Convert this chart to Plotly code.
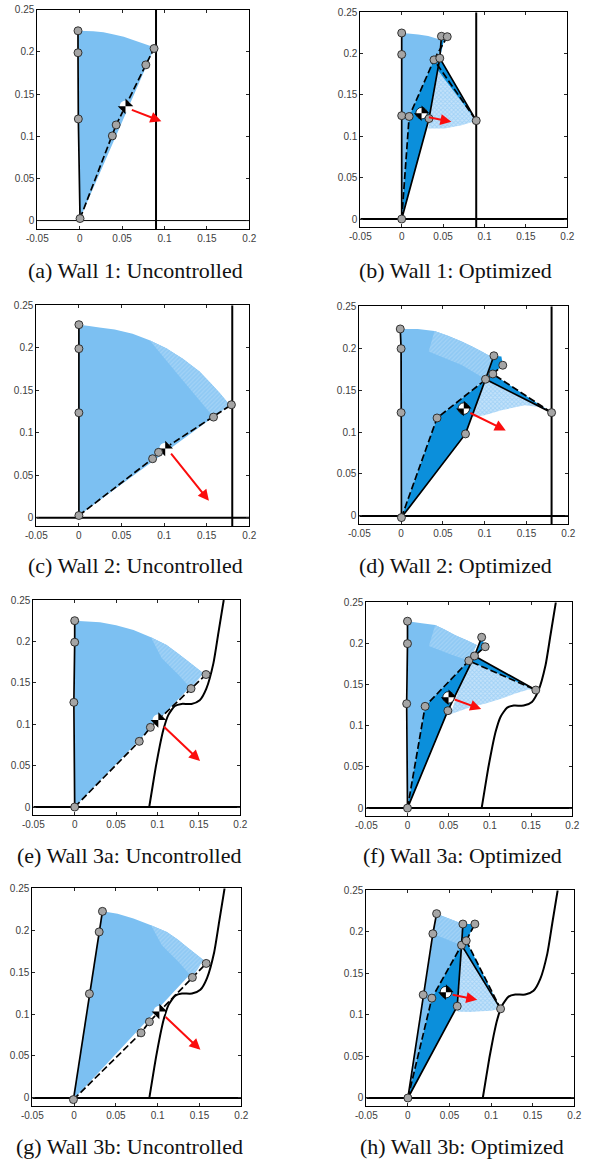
import plotly.graph_objects as go

W, H = 590, 1161
CAPTIONS = ["(a) Wall 1: Uncontrolled", "(b) Wall 1: Optimized", "(c) Wall 2: Uncontrolled", "(d) Wall 2: Optimized",
            "(e) Wall 3a: Uncontrolled", "(f) Wall 3a: Optimized", "(g) Wall 3b: Uncontrolled", "(h) Wall 3b: Optimized"]
CAPTION_POS = [(135, 270.5), (455, 270.5), (135, 565.5), (455, 565.5), (129, 855.5), (462, 855.5), (129, 1146.5), (462, 1146.5)]
FRAMES = [(37.3, 249.3, 9.7, 229), (360.3, 567.3, 12.3, 227.3), (36.3, 249.3, 305.3, 526.3), (359.3, 568.3, 306.3, 524.3),
          (33.3, 240.3, 600, 815.3), (366.3, 572.3, 602.3, 816.3), (32.3, 241.3, 888.3, 1106.3), (366.3, 574.3, 890.3, 1106.3)]
X_TICKS = [-0.05, 0, 0.05, 0.1, 0.15, 0.2]
X_LABELS = ["-0.05", "0", "0.05", "0.1", "0.15", "0.2"]
Y_TICKS = [0, 0.05, 0.1, 0.15, 0.2, 0.25]
Y_LABELS = ["0", "0.05", "0.1", "0.15", "0.2", "0.25"]

WALL3_X = [0.09, 0.094, 0.098, 0.103, 0.107, 0.113, 0.121, 0.129, 0.141, 0.151, 0.159, 0.1675, 0.1735, 0.18]
WALL3_Y = [0, 0.0245, 0.0487, 0.075, 0.093, 0.111, 0.122, 0.1245, 0.1245, 0.129, 0.143, 0.1735, 0.21, 0.25]
WALL1_X = [0.09, 0.09]
WALL2_X = [0.18, 0.18]
WALL_V_Y = [-0.01, 0.25]

# Panel a
A_LIGHT = [(-0.002, 0.225), (0.016, 0.2244), (0.028, 0.2232), (0.039, 0.221), (0.052, 0.2178), (0.063, 0.214), (0.075, 0.2098), (0.086, 0.206), (0.0877, 0.204), (0.0004, 0.0024)]
A_BAND = []
A_HATCH = []
A_SOLID = [[(0.0004, 0.0024), (-0.0016, 0.1205), (-0.002, 0.199), (-0.002, 0.225)]]
A_DASH = [[(0.0004, 0.0024), (0.0385, 0.1004), (0.043, 0.1134), (0.078, 0.1846), (0.0877, 0.204)]]
A_DOTS = [(-0.002, 0.225), (-0.002, 0.199), (-0.0016, 0.1205), (0.0004, 0.0024), (0.0385, 0.1004), (0.043, 0.1134), (0.078, 0.1846), (0.0877, 0.204)]
A_COM = (0.054, 0.1354)
A_ARROW = (0.0597, 0.132, 0.0963, 0.1177)

# Panel b
B_LIGHT = [(0, 0.225), (0.0076, 0.2245), (0.02, 0.2232), (0.032, 0.2213), (0.048, 0.2165), (0.046, 0.1945), (0.039, 0.1925), (0.009, 0.124), (0, 0)]
B_BAND = []
B_HATCH = [[(0.045, 0.19), (0.09, 0.119), (0.0725, 0.1135), (0.052, 0.1095), (0.032, 0.1095)]]
B_DARK = [[(0, 0), (0.009, 0.124), (0.039, 0.1925), (0.046, 0.1945), (0.033, 0.1215)],
          [(0.046, 0.1945), (0.048, 0.221), (0.052, 0.2205)],
          [(0.046, 0.1945), (0.09, 0.119), (0.042, 0.182)]]
B_SOLID = [[(0, 0), (0, 0.125), (0, 0.199), (0, 0.225)],
           [(0, 0), (0.033, 0.1215), (0.046, 0.1945), (0.09, 0.119)],
           [(0.046, 0.1945), (0.048, 0.221)]]
B_DASH = [[(0, 0), (0.009, 0.124), (0.039, 0.1925), (0.09, 0.119)], [(0.039, 0.1925), (0.055, 0.2205)]]
B_DOTS = [(0, 0.225), (0, 0.199), (0, 0.125), (0.009, 0.124), (0.033, 0.1215), (0.039, 0.1925), (0.046, 0.1945), (0.048, 0.221), (0.055, 0.2205), (0.09, 0.119), (0, 0)]
B_COM = (0.024, 0.128)
B_ARROW = (0.031, 0.1235, 0.06, 0.1175)

# Panel c
C_LIGHT = [(0, 0.2272), (0.012, 0.2255), (0.024, 0.224), (0.042, 0.2215), (0.063, 0.2165), (0.083, 0.209), (0.1025, 0.1995), (0.122, 0.187), (0.1416, 0.172), (0.155, 0.158), (0.165, 0.147), (0.177, 0.1327), (0, 0.0027)]
C_BAND = [[(0.083, 0.209), (0.1025, 0.1995), (0.122, 0.187), (0.1416, 0.172), (0.155, 0.158), (0.165, 0.147), (0.177, 0.1327), (0.158, 0.1185), (0.14, 0.14), (0.115, 0.17)]]
C_HATCH = []
C_SOLID = [[(0, 0.0027), (0, 0.1236), (0, 0.199), (0, 0.2272)]]
C_DASH = [[(0, 0.0027), (0.0865, 0.0695), (0.0935, 0.077), (0.158, 0.1185), (0.179, 0.133)]]
C_DOTS = [(0, 0.2272), (0, 0.199), (0, 0.1236), (0, 0.0027), (0.0865, 0.0695), (0.0935, 0.077), (0.158, 0.1185), (0.179, 0.133)]
C_COM = (0.1013, 0.0816)
C_ARROW = (0.1068, 0.0773, 0.1526, 0.02)

# Panel d
D_LIGHT = [(-0.001, 0.223), (0.02, 0.223), (0.04, 0.2206), (0.056, 0.215), (0.0725, 0.208), (0.085, 0.202), (0.0965, 0.196), (0.111, 0.188), (0.101, 0.163), (0.043, 0.1168), (0.0004, -0.002)]
D_BAND = [[(0.04, 0.2206), (0.056, 0.215), (0.0725, 0.208), (0.085, 0.202), (0.0965, 0.196), (0.111, 0.188), (0.101, 0.163), (0.0725, 0.18), (0.033, 0.196)]]
D_HATCH = [[(0.101, 0.163), (0.18, 0.1232), (0.165, 0.13), (0.148, 0.132), (0.12, 0.126), (0.1, 0.12), (0.0845, 0.118)]]
D_DARK = [[(0.0004, -0.002), (0.043, 0.1168), (0.1097, 0.1693), (0.101, 0.163), (0.077, 0.0978)],
          [(0.101, 0.163), (0.1097, 0.1693), (0.18, 0.1232)],
          [(0.101, 0.163), (0.111, 0.191), (0.12, 0.19), (0.1216, 0.1797), (0.1097, 0.1693)]]
D_SOLID = [[(0.0004, -0.002), (0, 0.1232), (0, 0.1995), (-0.001, 0.223)],
           [(0.0004, -0.002), (0.077, 0.0978), (0.101, 0.163), (0.18, 0.1232)],
           [(0.101, 0.163), (0.111, 0.191)]]
D_DASH = [[(0.0004, -0.002), (0.043, 0.1168), (0.1097, 0.1693), (0.18, 0.1232)], [(0.1097, 0.1693), (0.1216, 0.1797)]]
D_DOTS = [(-0.001, 0.223), (0, 0.1995), (0, 0.1232), (0.0004, -0.002), (0.043, 0.1168), (0.077, 0.0978), (0.101, 0.163), (0.1097, 0.1693), (0.111, 0.191), (0.1216, 0.1797), (0.18, 0.1232)]
D_COM = (0.075, 0.128)
D_ARROW = (0.081, 0.1236, 0.1252, 0.102)

# Panel e
E_LIGHT = [(0, 0.225), (0.0306, 0.223), (0.05, 0.2195), (0.071, 0.2138), (0.092, 0.205), (0.111, 0.1957), (0.124, 0.186), (0.135, 0.1775), (0.1554, 0.1614), (0, 0)]
E_BAND = [[(0.092, 0.205), (0.111, 0.1957), (0.124, 0.186), (0.135, 0.1775), (0.1554, 0.1614), (0.1405, 0.143), (0.125, 0.16), (0.105, 0.18)]]
E_HATCH = []
E_SOLID = [[(0, 0), (-0.001, 0.1264), (0, 0.199), (0, 0.225)]]
E_DASH = [[(0, 0), (0.078, 0.0793), (0.0914, 0.0962), (0.1405, 0.143), (0.1586, 0.16)]]
E_DOTS = [(0, 0.225), (0, 0.199), (-0.001, 0.1264), (0, 0), (0.078, 0.0793), (0.0914, 0.0962), (0.1405, 0.143), (0.1586, 0.16)]
E_COM = (0.101, 0.105)
E_ARROW = (0.106, 0.0986, 0.1514, 0.0556)

# Panel f
F_LIGHT = [(0, 0.227), (0.0174, 0.2245), (0.0336, 0.2224), (0.045, 0.217), (0.058, 0.21), (0.072, 0.204), (0.084, 0.198), (0.0744, 0.179), (0.0214, 0.1236), (0, 0)]
F_BAND = [[(0.0336, 0.2224), (0.045, 0.217), (0.058, 0.21), (0.072, 0.204), (0.084, 0.198), (0.0744, 0.179), (0.052, 0.187), (0.026, 0.197)]]
F_HATCH = [[(0.075, 0.18), (0.1557, 0.1434), (0.147, 0.144), (0.13, 0.139), (0.1145, 0.133), (0.095, 0.127), (0.078, 0.123), (0.052, 0.114)]]
F_DARK = [[(0, 0), (0.0214, 0.1236), (0.0744, 0.179), (0.0813, 0.1848), (0.049, 0.1183)],
          [(0.0813, 0.1848), (0.09, 0.2075), (0.0943, 0.196)],
          [(0.0744, 0.179), (0.0813, 0.1848), (0.1557, 0.1434)]]
F_SOLID = [[(0, 0), (-0.001, 0.1268), (0, 0.1998), (0, 0.227)],
           [(0, 0), (0.049, 0.1183), (0.0813, 0.1848), (0.09, 0.2075)],
           [(0.0813, 0.1848), (0.1557, 0.1434)]]
F_DASH = [[(0, 0), (0.0214, 0.1236), (0.0744, 0.179), (0.1557, 0.1434)], [(0.0744, 0.179), (0.0943, 0.196)]]
F_DOTS = [(0, 0.227), (0, 0.1998), (-0.001, 0.1268), (0, 0), (0.0214, 0.1236), (0.049, 0.1183), (0.0744, 0.179), (0.0813, 0.1848), (0.09, 0.2075), (0.0943, 0.196), (0.1557, 0.1434)]
F_COM = (0.0498, 0.1345)
F_ARROW = (0.0554, 0.1325, 0.0894, 0.1203)

# Panel g
G_LIGHT = [(0.0339, 0.2225), (0.052, 0.2195), (0.071, 0.214), (0.092, 0.206), (0.111, 0.198), (0.124, 0.189), (0.135, 0.18), (0.1547, 0.1644), (-0.0008, -0.002)]
G_BAND = [[(0.092, 0.206), (0.111, 0.198), (0.124, 0.189), (0.135, 0.18), (0.1547, 0.1644), (0.1415, 0.1437), (0.125, 0.162), (0.105, 0.182)]]
G_HATCH = []
G_SOLID = [[(-0.0008, -0.002), (0.0183, 0.1242), (0.03, 0.198), (0.0339, 0.2225)]]
G_DASH = [[(-0.0008, -0.002), (0.0801, 0.0776), (0.0901, 0.0908), (0.1415, 0.1437), (0.158, 0.1604)]]
G_DOTS = [(0.0339, 0.2225), (0.03, 0.198), (0.0183, 0.1242), (-0.0008, -0.002), (0.0801, 0.0776), (0.0901, 0.0908), (0.1415, 0.1437), (0.158, 0.1604)]
G_COM = (0.102, 0.103)
G_ARROW = (0.1077, 0.0983, 0.1511, 0.0573)

# Panel h
H_LIGHT = [(0.0345, 0.2219), (0.0661, 0.2094), (0.0645, 0.184), (0.0288, 0.1202), (0, 0)]
H_BAND = [[(0.0345, 0.2219), (0.0661, 0.2094), (0.0645, 0.184), (0.03, 0.1977)]]
H_HATCH = [[(0.0645, 0.184), (0.1114, 0.1073), (0.1, 0.105), (0.088, 0.1045), (0.075, 0.1035), (0.06, 0.1037)]]
H_DARK = [[(0, 0), (0.0288, 0.1202), (0.0645, 0.184), (0.0593, 0.1105)],
          [(0.0645, 0.184), (0.0701, 0.1893), (0.1114, 0.1073)],
          [(0.0661, 0.2094), (0.0805, 0.2094), (0.0701, 0.1893), (0.0645, 0.184)]]
H_SOLID = [[(0, 0), (0.0184, 0.1242), (0.03, 0.1977), (0.0345, 0.2219)],
           [(0, 0), (0.0593, 0.1105), (0.0645, 0.184), (0.1114, 0.1073)],
           [(0.0645, 0.184), (0.0661, 0.2094)]]
H_DASH = [[(0, 0), (0.0288, 0.1202), (0.0645, 0.184), (0.0701, 0.1893), (0.0805, 0.2094)], [(0.0701, 0.1893), (0.1114, 0.1073)]]
H_DOTS = [(0.0345, 0.2219), (0.03, 0.1977), (0.0184, 0.1242), (0, 0), (0.0288, 0.1202), (0.0593, 0.1105), (0.0661, 0.2094), (0.0805, 0.2094), (0.0645, 0.184), (0.0701, 0.1893), (0.1114, 0.1073)]
H_COM = (0.0457, 0.1274)
H_ARROW = (0.052, 0.1246, 0.0833, 0.1182)

PANELS = [
    (A_LIGHT, A_BAND, A_HATCH, [], A_SOLID, A_DASH, A_DOTS, A_COM, A_ARROW, (WALL1_X, WALL_V_Y), 1.0),
    (B_LIGHT, B_BAND, B_HATCH, B_DARK, B_SOLID, B_DASH, B_DOTS, B_COM, B_ARROW, (WALL1_X, WALL_V_Y), 2.0),
    (C_LIGHT, C_BAND, C_HATCH, [], C_SOLID, C_DASH, C_DOTS, C_COM, C_ARROW, (WALL2_X, WALL_V_Y), 2.0),
    (D_LIGHT, D_BAND, D_HATCH, D_DARK, D_SOLID, D_DASH, D_DOTS, D_COM, D_ARROW, (WALL2_X, WALL_V_Y), 2.0),
    (E_LIGHT, E_BAND, E_HATCH, [], E_SOLID, E_DASH, E_DOTS, E_COM, E_ARROW, (WALL3_X, WALL3_Y), 2.0),
    (F_LIGHT, F_BAND, F_HATCH, F_DARK, F_SOLID, F_DASH, F_DOTS, F_COM, F_ARROW, (WALL3_X, WALL3_Y), 2.0),
    (G_LIGHT, G_BAND, G_HATCH, [], G_SOLID, G_DASH, G_DOTS, G_COM, G_ARROW, (WALL3_X, WALL3_Y), 2.0),
    (H_LIGHT, H_BAND, H_HATCH, H_DARK, H_SOLID, H_DASH, H_DOTS, H_COM, H_ARROW, (WALL3_X, WALL3_Y), 2.0),
]

LIGHT, DARK = "#7cc0f2", "#0b8fdb"
fig = go.Figure()


def xs(pts):
    return [p[0] for p in pts]


def ys(pts):
    return [p[1] for p in pts]


for i, (light, band, hatch, dark, solid, dash, dots, com, arrow, wall, ground_w) in enumerate(PANELS):
    n = "" if i == 0 else str(i + 1)
    ax = dict(xaxis="x" + n, yaxis="y" + n, showlegend=False, hoverinfo="skip")
    fig.add_trace(go.Scatter(x=xs(light), y=ys(light), mode="none", fill="toself", fillcolor=LIGHT, **ax))
    for poly in band:
        fig.add_trace(go.Scatter(x=xs(poly), y=ys(poly), mode="none", fill="toself",
                                 fillpattern=dict(shape="/", fgcolor=LIGHT, bgcolor="#a2d2f6", size=3, solidity=0.55), **ax))
    for poly in hatch:
        fig.add_trace(go.Scatter(x=xs(poly), y=ys(poly), mode="none", fill="toself",
                                 fillpattern=dict(shape="x", fgcolor=LIGHT, bgcolor="#c4e2fa", size=3, solidity=0.5), **ax))
    for poly in dark:
        fig.add_trace(go.Scatter(x=xs(poly), y=ys(poly), mode="none", fill="toself", fillcolor=DARK, **ax))
    fig.add_trace(go.Scatter(x=[-0.05, 0.2], y=[0, 0], mode="lines", line=dict(color="black", width=ground_w), **ax))
    curved = len(wall[0]) > 2
    fig.add_trace(go.Scatter(x=wall[0], y=wall[1], mode="lines",
                             line=dict(color="black", width=2, shape="spline" if curved else "linear", smoothing=0.6 if curved else None), **ax))
    for pl in solid:
        fig.add_trace(go.Scatter(x=xs(pl), y=ys(pl), mode="lines", line=dict(color="black", width=1.7), **ax))
    for pl in dash:
        fig.add_trace(go.Scatter(x=xs(pl), y=ys(pl), mode="lines", line=dict(color="black", width=1.7, dash="7px,3px"), **ax))
    outlined = len(dark) > 0
    fig.add_trace(go.Scatter(x=[com[0]], y=[com[1]], mode="markers",
                             marker=dict(size=11.5, color="white", line=dict(width=0.8 if outlined else 0, color="black")), **ax))
    fig.add_trace(go.Scatter(x=[com[0]], y=[com[1]], mode="markers",
                             marker=dict(size=11, symbol="hourglass", angle=45, color="black", line=dict(width=0)), **ax))
    fig.add_trace(go.Scatter(x=xs(dots), y=ys(dots), mode="markers",
                             marker=dict(size=8, color="#a5a5a5", line=dict(color="#222222", width=0.9)), **ax))
    l, r, t, b = FRAMES[i]
    common = dict(ticks="inside", ticklen=3, tickcolor="#262626", mirror="ticks", showline=True, linecolor="black", linewidth=1,
                  showgrid=False, zeroline=False, automargin=False, fixedrange=True,
                  tickfont=dict(family="Liberation Sans", size=10, color="#404040"))
    fig.update_layout(**{
        "xaxis" + n: dict(domain=[l / W, r / W], range=[-0.05, 0.2], tickvals=X_TICKS, ticktext=X_LABELS, anchor="y" + n, **common),
        "yaxis" + n: dict(domain=[1 - b / H, 1 - t / H], range=[-0.01, 0.25], tickvals=Y_TICKS, ticktext=Y_LABELS, anchor="x" + n, **common),
    })
    fig.add_annotation(x=arrow[2], y=arrow[3], ax=arrow[0], ay=arrow[1], xref="x" + n, yref="y" + n, axref="x" + n, ayref="y" + n,
                       showarrow=True, arrowhead=2, arrowsize=1.1, arrowwidth=2, arrowcolor="#fb0d0d", text="")
    cx, cy = CAPTION_POS[i]
    fig.add_annotation(x=cx / W, y=1 - cy / H, xref="paper", yref="paper", text=CAPTIONS[i], showarrow=False, xanchor="center", yanchor="middle",
                       font=dict(family="Liberation Serif", size=22, color="#111111"))

fig.update_layout(width=W, height=H, margin=dict(l=0, r=0, t=0, b=0), paper_bgcolor="white", plot_bgcolor="white")
fig.write_html("out.html", config=dict(displayModeBar=False), post_script="document.body.style.margin='0';")
